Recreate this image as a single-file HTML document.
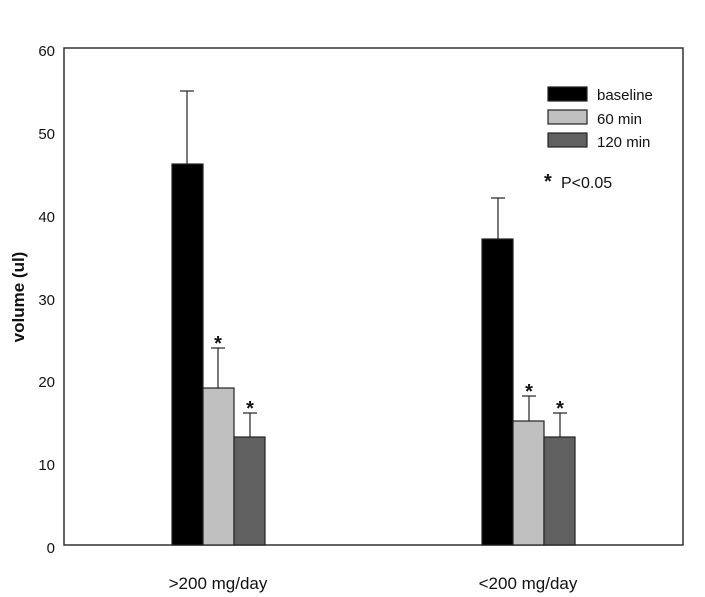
<!DOCTYPE html>
<html><head><style>body{margin:0;background:#fff}svg{display:block}text{font-family:"Liberation Sans",Arial,sans-serif;fill:#111}</style></head>
<body>
<svg width="705" height="597" viewBox="0 0 705 597">
<rect x="64" y="48" width="619" height="497" fill="none" stroke="#333" stroke-width="1.5"/>
<g font-size="15" text-anchor="end">
<text x="55" y="553">0</text><text x="55" y="470">10</text><text x="55" y="387">20</text><text x="55" y="305">30</text><text x="55" y="222">40</text><text x="55" y="139">50</text><text x="55" y="56">60</text>
</g>
<text transform="translate(24,297) rotate(-90)" font-size="17" font-weight="bold" text-anchor="middle">volume (ul)</text>
<g stroke="#222" stroke-width="1.2">
<line x1="187" y1="91" x2="187" y2="164"/><line x1="180" y1="91" x2="194" y2="91"/>
<line x1="218" y1="348" x2="218" y2="388"/><line x1="211" y1="348" x2="225" y2="348"/>
<line x1="250" y1="413" x2="250" y2="437"/><line x1="243" y1="413" x2="257" y2="413"/>
<line x1="498" y1="198" x2="498" y2="239"/><line x1="491" y1="198" x2="505" y2="198"/>
<line x1="529" y1="396" x2="529" y2="421"/><line x1="522" y1="396" x2="536" y2="396"/>
<line x1="560" y1="413" x2="560" y2="437"/><line x1="553" y1="413" x2="567" y2="413"/>
<rect x="172" y="164" width="31" height="381" fill="#000"/>
<rect x="203" y="388" width="31" height="157" fill="#c0c0c0"/>
<rect x="234" y="437" width="31" height="108" fill="#606060"/>
<rect x="482" y="239" width="31" height="306" fill="#000"/>
<rect x="513" y="421" width="31" height="124" fill="#c0c0c0"/>
<rect x="544" y="437" width="31" height="108" fill="#606060"/>
<rect x="548" y="87" width="39" height="14" fill="#000"/>
<rect x="548" y="110" width="39" height="14" fill="#c0c0c0"/>
<rect x="548" y="133" width="39" height="14" fill="#606060"/>
</g>
<g font-size="20" font-weight="bold" text-anchor="middle">
<text x="218" y="350">*</text><text x="250" y="415">*</text><text x="529" y="398">*</text><text x="560" y="415">*</text>
</g>
<g font-size="15">
<text x="597" y="100">baseline</text><text x="597" y="124">60 min</text><text x="597" y="147">120 min</text>
<text x="544" y="188" font-size="20" font-weight="bold">*</text><text x="561" y="188" font-size="16">P&lt;0.05</text>
</g>
<g font-size="17" text-anchor="middle">
<text x="218" y="589">&gt;200 mg/day</text><text x="528" y="589">&lt;200 mg/day</text>
</g>
</svg>
</body></html>
